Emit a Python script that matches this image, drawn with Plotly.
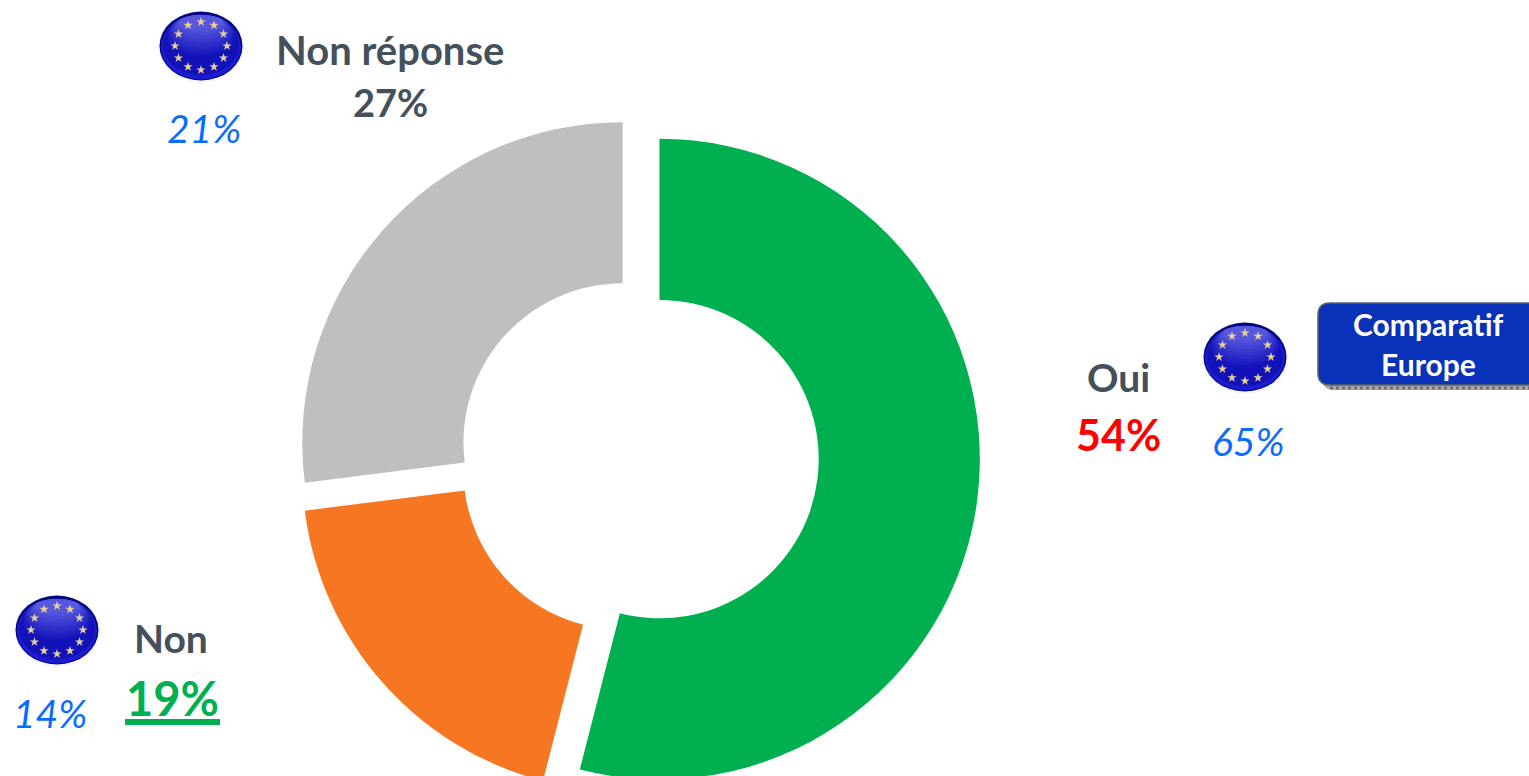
import math
import plotly.graph_objects as go

labels = ["Oui", "Non", "Non réponse"]
values = [54, 19, 27]
europe = ["65%", "14%", "21%"]
slice_colors = ["#00b050", "#f77622", "#bfbfbf"]

W, H = 1529, 798   # taller than the window: the donut runs off the bottom edge

flag_x = [1245, 57, 201]
flag_y = [357, 630, 46]

fig = go.Figure()

fig.add_trace(go.Pie(
    labels=labels, values=values, sort=False, direction="clockwise", rotation=0,
    hole=0.497, pull=0.066, textinfo="none", hoverinfo="label+percent",
    marker=dict(colors=slice_colors, line=dict(width=0)),
    domain=dict(x=[297 / W, 980 / W], y=[0, 1 - 115 / H]),
    showlegend=False,
))

shapes = []


def blend(c0, c1, t):
    return "rgb(" + ",".join(str(round(a + (b - a) * t)) for a, b in zip(c0, c1)) + ")"


def ellipse(cx, cy, rx, ry, col):
    shapes.append(dict(type="circle", xref="x", yref="y", layer="below", x0=cx - rx, x1=cx + rx,
                       y0=cy - ry, y1=cy + ry, fillcolor=col, line=dict(width=0)))


# europe flags: stacked ellipses fake the glossy look
for cx, cy in zip(flag_x, flag_y):
    ellipse(cx, cy + 1, 43, 36, "#f6f6fc")
    ellipse(cx, cy, 41.5, 34.5, "#05057c")
    ellipse(cx, cy + 1, 40, 32.5, "#1c1cd0")
    ellipse(cx, cy, 38, 29, "#1212b8")
    # gloss: keeps its top edge and shrinks upwards, getting lighter
    top = cy - 31
    for i in range(10):
        t = i / 9
        ry = 21 - 14 * t
        ellipse(cx, top + ry, 35 - 13 * t, ry, blend((22, 22, 190), (88, 88, 222), t))
    star_x = [cx + 26 * math.sin(math.radians(a)) for a in range(0, 360, 30)]
    star_y = [cy - 24 * math.cos(math.radians(a)) for a in range(0, 360, 30)]
    fig.add_trace(go.Scatter(x=star_x, y=star_y, mode="markers", hoverinfo="skip", showlegend=False,
                             marker=dict(symbol="star", size=7, color="#e8d294", line=dict(width=0))))


def rounded(x0, y0, x1, y1, r):
    return (f"M{x0},{y0 + r} Q{x0},{y0} {x0 + r},{y0} L{x1},{y0} L{x1},{y1} L{x0 + r},{y1} "
            f"Q{x0},{y1} {x0},{y1 - r} Z")


# comparatif button and its hatched shadow
shapes.append(dict(type="path", xref="x", yref="y", layer="below", path=rounded(1322, 310, 1540, 390, 12),
                   fillcolor="#a8a8a8", line=dict(width=0)))
shapes.append(dict(type="line", xref="x", yref="y", layer="below", x0=1330, x1=1540, y0=388, y1=388,
                   line=dict(color="#6e6e6e", width=3, dash="dot")))
shapes.append(dict(type="path", xref="x", yref="y", layer="below", path=rounded(1318, 303, 1540, 385, 12),
                   fillcolor="#0a32b8", line=dict(color="#5a6270", width=1.5)))
# underline under the 19%
shapes.append(dict(type="rect", xref="x", yref="y", layer="below", x0=125, x1=220, y0=719, y1=725,
                   fillcolor="#00b050", line=dict(width=0)))


def note(x, y, text, size, color, bold=True, italic=False):
    fig.add_annotation(x=x, y=y, xref="x", yref="y", text=text, showarrow=False,
                       xanchor="center", yanchor="middle",
                       font=dict(family="Lato", size=size, color=color,
                                 weight=700 if bold else 400,
                                 style="italic" if italic else "normal"))


gray = "#44505c"
note(390, 50, labels[2], 40, gray)
note(390, 102, f"{values[2]}%", 38, gray)
note(1118, 377, labels[0], 39, gray)
note(1118, 434, f"{values[0]}%", 43, "#ff0000")
note(171, 638, labels[1], 39, gray)
note(172, 698, f"{values[1]}%", 47, "#00b050")

blue = "#0a6cff"
note(204, 128, europe[2], 39, blue, bold=False, italic=True)
note(1248, 441, europe[0], 39, blue, bold=False, italic=True)
note(50, 713, europe[1], 39, blue, bold=False, italic=True)

note(1428, 324, "Comparatif", 30, "#ffffff")
note(1428, 364, "Europe", 30, "#ffffff")

fig.update_layout(
    width=W, height=H, margin=dict(l=0, r=0, t=0, b=0),
    paper_bgcolor="white", plot_bgcolor="white", shapes=shapes, showlegend=False,
    xaxis=dict(range=[0, W], visible=False, fixedrange=True),
    yaxis=dict(range=[H, 0], visible=False, fixedrange=True),
)

fig.write_html("out.html", config=dict(displayModeBar=False),
               post_script="document.body.style.margin='0';document.body.style.overflow='hidden';document.documentElement.style.overflow='hidden';")
